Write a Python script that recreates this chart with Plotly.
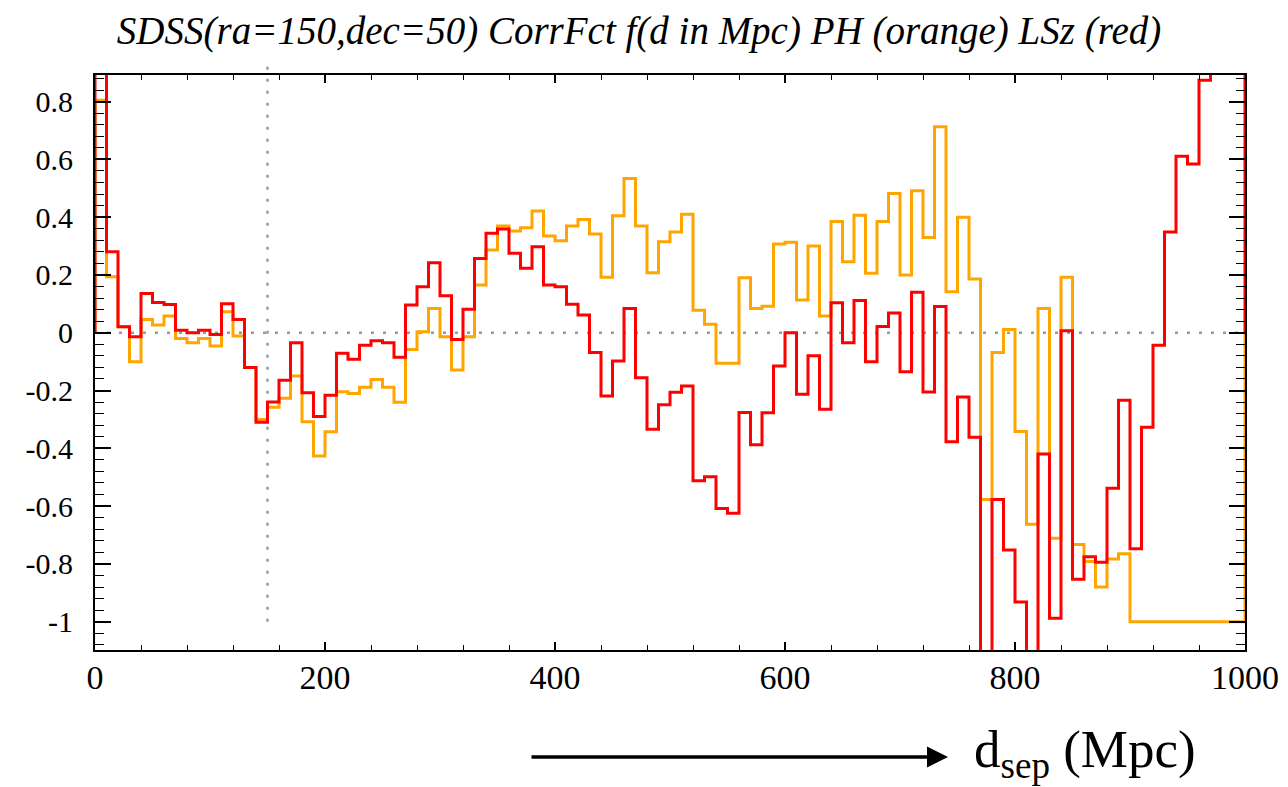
import numpy as np
import plotly.graph_objects as go

# ---- data ----
bin_width = 10
bin_starts = list(range(0, 1000, bin_width))  # d in Mpc

ph_orange = [0.805, 0.194, 0.021, -0.10, 0.046, 0.027, 0.058, -0.02, -0.035, -0.02,
             -0.046, 0.073, -0.011, -0.12, -0.30, -0.258, -0.227, -0.15, -0.308, -0.427,
             -0.343, -0.204, -0.21, -0.189, -0.162, -0.189, -0.241, -0.058, 0.003, 0.084,
             -0.014, -0.129, -0.014, 0.165, 0.286, 0.369, 0.352, 0.363, 0.421, 0.335,
             0.318, 0.369, 0.392, 0.342, 0.192, 0.405, 0.534, 0.369, 0.208, 0.315,
             0.349, 0.41, 0.078, 0.029, -0.106, -0.106, 0.19, 0.084, 0.092, 0.307,
             0.313, 0.113, 0.30, 0.058, 0.385, 0.246, 0.407, 0.206, 0.385, 0.482,
             0.20, 0.491, 0.33, 0.713, 0.142, 0.40, 0.186, -0.577, -0.068, 0.011,
             -0.342, -0.663, 0.084, -0.711, 0.192, -0.733, -0.792, -0.88, -0.783, -0.765,
             -1.0, -1.0, -1.0, -1.0, -1.0, -1.0, -1.0, -1.0, -1.0, -1.0]

lsz_red = [1.5, 0.28, 0.021, -0.014, 0.136, 0.105, 0.098, 0.009, 0.0, 0.009,
           -0.006, 0.10, 0.046, -0.12, -0.31, -0.24, -0.164, -0.035, -0.208, -0.29,
           -0.216, -0.071, -0.092, -0.043, -0.028, -0.035, -0.085, 0.096, 0.159, 0.242,
           0.128, -0.023, 0.081, 0.257, 0.344, 0.359, 0.275, 0.223, 0.298, 0.165,
           0.159, 0.099, 0.061, -0.068, -0.219, -0.098, 0.084, -0.156, -0.334, -0.249,
           -0.206, -0.184, -0.512, -0.498, -0.608, -0.625, -0.276, -0.388, -0.277, -0.115,
           0.0, -0.213, -0.08, -0.265, 0.104, -0.035, 0.112, -0.10, 0.022, 0.068,
           -0.135, 0.14, -0.205, 0.091, -0.377, -0.222, -0.362, -1.3, -0.577, -0.752,
           -0.932, -1.3, -0.42, -0.988, 0.007, -0.853, -0.775, -0.794, -0.538, -0.234,
           -0.748, -0.327, -0.043, 0.349, 0.611, 0.584, 0.874, 1.2, 1.2, 1.2]

y_tick_vals = [0.8, 0.6, 0.4, 0.2, 0, -0.2, -0.4, -0.6, -0.8, -1]
y_tick_text = ["0.8", "0.6", "0.4", "0.2", "0", "-0.2", "-0.4", "-0.6", "-0.8", "-1"]
x_tick_vals = [0, 200, 400, 600, 800, 1000]
x_tick_text = ["0", "200", "400", "600", "800", "1000"]

title_text = "SDSS(ra=150,dec=50) CorrFct f(d in Mpc) PH (orange) LSz (red)"
xlabel_text = "d<sub>sep</sub> (Mpc)"
vline_x = 150

x_min, x_max = 0, 1000
y_min, y_max = -1.098, 0.892


def step_xy(vals):
    xs = [bin_starts[0]] + bin_starts + [bin_starts[-1] + bin_width, bin_starts[-1] + bin_width]
    ys = [0] + list(vals) + [vals[-1], 0]
    return xs, ys


fig = go.Figure()
for vals, col in [(ph_orange, "#ffa500"), (lsz_red, "#ff0000")]:
    xs, ys = step_xy(vals)
    fig.add_trace(go.Scatter(x=xs, y=ys, mode="lines", line=dict(color=col, width=3, shape="hv"),
                             showlegend=False, hoverinfo="skip"))

# dotted zero line and vertical marker
fig.add_shape(type="line", xref="x", yref="y", x0=x_min, x1=x_max, y0=0, y1=0,
              line=dict(color="#999999", width=2.5, dash="3px,9px"), layer="below")
fig.add_shape(type="line", xref="x", yref="paper", x0=vline_x, x1=vline_x,
              y0=(-1 - y_min) / (y_max - y_min), y1=1.018,
              line=dict(color="#999999", width=2.5, dash="3px,9px"), layer="below")

serif = "Liberation Serif"

fig.update_layout(
    width=1280, height=779,
    font=dict(family=serif, color="black"),
    margin=dict(l=87, r=43, t=67, b=137, autoexpand=False),
    paper_bgcolor="white", plot_bgcolor="white",
    title=dict(text=title_text, x=0.493, xanchor="center", y=0.971, yanchor="middle",
               font=dict(family=serif, size=39, color="black", style="italic"), automargin=False),
    xaxis=dict(range=[x_min, x_max], tickmode="array", tickvals=x_tick_vals, ticktext=x_tick_text,
               showgrid=False, zeroline=False, showline=True, linecolor="black", linewidth=2,
               mirror="ticks", ticks="inside", ticklen=8, tickwidth=1.5, tickcolor="black",
               tickfont=dict(family=serif, size=34, color="black"), ticklabelstandoff=-4,
               automargin=False,
               minor=dict(tickmode="linear", tick0=0, dtick=40, ticks="inside", ticklen=5,
                          tickwidth=1.2, tickcolor="black", showgrid=False)),
    yaxis=dict(range=[y_min, y_max], tickmode="array", tickvals=y_tick_vals, ticktext=y_tick_text,
               showgrid=False, zeroline=False, showline=True, linecolor="black", linewidth=2,
               mirror="ticks", ticks="inside", ticklen=16, tickwidth=1.5, tickcolor="black",
               tickfont=dict(family=serif, size=30, color="black"), ticklabelstandoff=14,
               automargin=False,
               minor=dict(tickmode="linear", tick0=0, dtick=0.04, ticks="inside", ticklen=9,
                          tickwidth=1.2, tickcolor="black", showgrid=False)),
)

# arrow and axis label below the plot
fig.add_annotation(x=(948 - 95) / 1150, y=(650 - 757) / 575, xref="paper", yref="paper",
                   ax=-418, ay=0, text="", showarrow=True, arrowhead=2, arrowsize=1.2,
                   arrowwidth=3.5, arrowcolor="black")
fig.add_annotation(x=(972 - 95) / 1150, y=(650 - 753) / 575, xref="paper", yref="paper",
                   text=xlabel_text, showarrow=False, xanchor="left", yanchor="middle",
                   font=dict(family=serif, size=53, color="black"))

fig.write_html("out.html")
